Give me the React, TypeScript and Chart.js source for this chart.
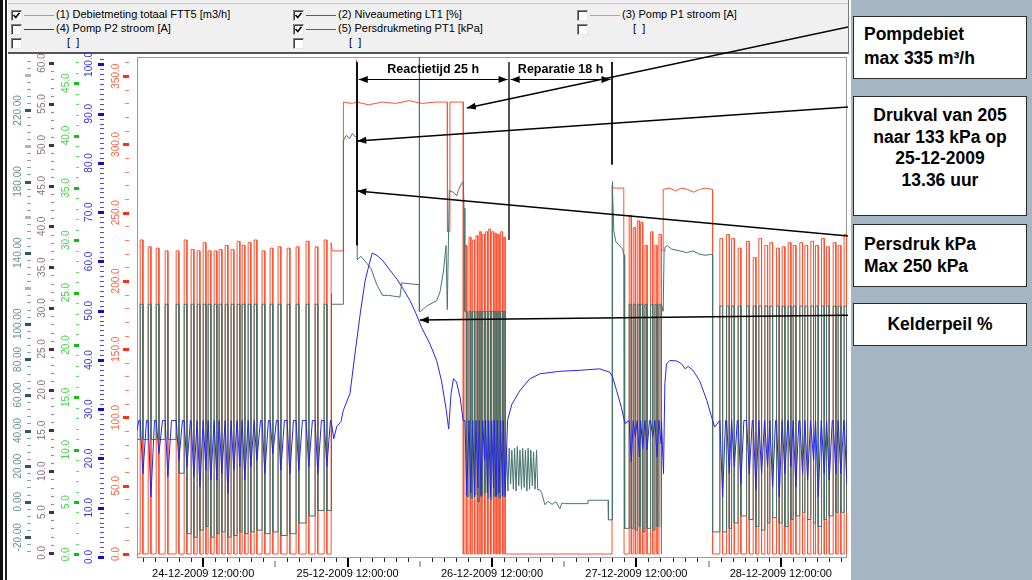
import React, { useEffect, useRef } from 'react';
import { Chart, registerables } from 'chart.js';

Chart.register(...registerables);

type Pt = { x: number; y: number };
const FONT = "'Liberation Sans', Arial, Helvetica, sans-serif";

// ---------- time axis: hours after 24-12-2009 00:00 ----------
const hourMin = 1.0;
const hourMax = 119.0;
const dateTickHours = [12, 36, 60, 84, 108];
const dateTickLabels = [
  '24-12-2009 12:00:00',
  '25-12-2009 12:00:00',
  '26-12-2009 12:00:00',
  '27-12-2009 12:00:00',
  '28-12-2009 12:00:00',
];

// ---------- axis tick labels ----------
const flowTicks = [0, 50, 100, 150, 200, 250, 300, 350];
const levelTicks = [0, 10, 20, 30, 40, 50, 60, 70, 80, 90, 100];
const p1Ticks = [0, 5, 10, 15, 20, 25, 30, 35, 40, 45];
const p2Ticks = [0, 5, 10, 15, 20, 25, 30, 35, 40, 45, 50, 55, 60];
const pressTicks = [-20, 0, 20, 40, 60, 80, 100, 140, 180, 220];
const pressGrayTicks = [120, 160, 200, 240];

// ---------- period 1: pump cycles 24-12 ----------
const cycleStarts1 = [1.53, 2.86, 4.19, 5.68, 7.51, 8.84, 10.0, 11.0, 12.0, 12.82, 13.82, 14.65, 15.65, 16.64, 17.64, 18.47, 19.47, 20.47, 21.79, 23.12, 24.45, 25.95, 27.44, 29.1, 30.6, 32.1];
const onHours1 = 0.45;
const flowPeaks1 = [230, 225, 224, 222, 222, 230, 223, 222, 228, 222, 222, 223, 226, 223, 229, 226, 228, 230, 222, 224, 225, 224, 225, 229, 225, 230];
const levelLows1 = [16.9, 12.2, 21.0, 16.3, 19.6, 18.3, 16.3, 14.2, 17.6, 15.6, 15.6, 16.9, 12.9, 17.6, 18.3, 15.6, 18.3, 19.6, 16.9, 21.0, 17.6, 16.9, 17.6, 18.3, 16.9, 18.3];
const pressureOff1 = [35, 35, 35, 35, 16, -18, -20, -16, -14, -20, -18, -17, -20, -19, -17, -18, -17, -16, -18, -17, -19, -18, -12, -8, -5, -5];
const pressureStart = 35;
const levelStartHours = [1.0, 1.3];
const levelStartValues = [25.7, 27.7];

// ---------- period 2: continuous pumping (pump fault) ----------
const runFlowHours2 = [33.26, 33.26, 33.45, 35.3, 35.3, 36.8, 37.45, 37.45, 37.5, 39.5, 41.8, 44.0, 46.2, 48.4, 50.6, 52.55, 52.6, 52.95, 53.0, 55.23, 55.23];
const runFlowValues2 = [0, 228, 222, 222, 331, 330, 331, 362, 331, 329, 331, 330, 332, 330, 331, 331, 236, 236, 331, 331, 0];
const runPressHours2 = [33.26, 33.26, 33.4, 35.3, 35.3, 35.8, 36.3, 36.8, 37.3, 37.55, 37.6, 38.2, 39.2, 39.9, 40.85, 41.8, 42.8, 44.7, 45.0, 47.76, 47.9, 47.92, 47.95, 48.16, 49.15, 50.81, 51.36, 51.91, 52.36, 52.57, 52.9, 53.52, 54.14, 54.4, 54.97, 55.23, 55.35, 55.45];
const runPressValues2 = [-5, 117, 111, 111, 203, 206, 204, 207, 205, 205, 136, 138, 134, 131, 122, 116, 116, 115, 123, 122, 122, 251, 107, 107, 110, 113, 118, 129, 144, 108, 175, 174, 172, 175, 179, 180, 165, 107];
const runLevelHours2 = [33.26, 33.7, 34.2, 34.9, 35.3, 36.4, 37.2, 38.1, 38.9, 39.6, 40.1, 40.9, 41.9, 43.0, 44.2, 45.3, 46.4, 47.3, 48.3, 49.7, 50.8, 51.6, 52.4, 52.8, 53.2, 53.6, 54.1, 54.7, 55.2];
const runLevelValues2 = [27.7, 24.0, 26.5, 27.5, 29.8, 33.2, 41.0, 49.4, 56.0, 59.5, 61.7, 61.2, 60.1, 58.3, 56.4, 54.3, 52.0, 49.6, 46.6, 43.2, 39.9, 35.8, 29.8, 26.0, 33.2, 36.2, 35.5, 32.4, 27.7];

// ---------- period 2b: short cycles 26-12 ----------
const cycleStarts2 = [55.51, 56.18, 56.79, 57.34, 57.89, 58.46, 58.95, 59.45, 59.95, 60.38, 60.88, 61.44, 61.88];
const onHours2 = 0.3;
const flowPeaks2 = [226, 232, 230, 233, 236, 234, 236, 238, 236, 235, 234, 236, 232];
const levelLows2 = [12.5, 13.0, 12.2, 14.0, 12.5, 19.6, 13.0, 12.2, 14.0, 12.2, 13.0, 12.5, 12.2];
const pressureOff2 = [3, 2, 4, 0, 3, 5, 2, 1, 3, 4, 2, 3, 6];

// ---------- repair period (pumps stopped) ----------
const oscPressHours = [62.2, 62.4, 62.65, 62.85, 63.1, 63.3, 63.55, 63.75, 64.0, 64.2, 64.45, 64.65, 64.9, 65.1, 65.35, 65.55, 65.8, 66.0, 66.25, 66.45, 66.7, 66.9, 67.15, 67.4];
const oscPressValues = [8, 30, 6, 30, 10, 29, 7, 30, 6, 31, 9, 29, 7, 30, 8, 29, 6, 30, 7, 29, 9, 28, 7, 29];
const quietPressHours = [67.6, 67.9, 68.25, 68.8, 69.3, 70.0, 70.6, 71.3, 71.6, 72.1, 75.8, 75.95, 79.3, 79.35, 79.95];
const quietPressValues = [6.8, 6.8, 5.0, -1.7, 0.2, -1.5, 0.0, -4.0, -0.8, -1.1, -1.1, 0.8, 0.8, -10.2, -10.2];
const recoverLevelHours = [63.3, 64.65, 66.3, 68.0, 71.3, 74.6, 77.9, 79.6, 80.05, 80.7, 81.5, 82.1];
const recoverLevelValues = [31.0, 33.8, 36.2, 37.2, 37.7, 37.9, 38.2, 37.5, 36.5, 33.8, 30.4, 27.1];

// ---------- period 3: restart 27-12 ----------
const runFlowHours3 = [79.95, 79.95, 80.2, 81.9, 81.95];
const runFlowValues3 = [0, 270, 268, 268, 0];
const runPressHours3 = [80.0, 80.0, 80.1, 80.25, 80.6, 81.2, 81.7, 81.95, 82.05];
const runPressValues3 = [-10.2, 180, 174, 152, 146, 144, 142, 138.6, -15];
const cycleStarts3 = [82.8, 83.47, 84.14, 84.7, 85.42, 86.36, 87.08, 87.74];
const onHours3 = 0.35;
const flowPeaks3 = [248, 239, 244, 243, 226, 236, 226, 234];
const levelLows3 = [19.3, 24.4, 20.3, 22.0, 21.7, 24.4, 20.3, 23.0];
const pressureOff3 = [-15, -16, -14, -17, -15, -16, -14, -15];

// ---------- period 3b: continuous run 27/28-12 ----------
const runFlowHours4 = [88.19, 88.19, 88.45, 88.45, 89.5, 90.5, 91.5, 92.5, 93.5, 94.5, 95.5, 96.66, 96.66];
const runFlowValues4 = [0, 222, 222, 267, 268, 266, 268, 267, 265, 267, 268, 267, 0];
const runPressHours4 = [88.19, 88.19, 88.45, 88.6, 88.73, 89.1, 89.85, 91.23, 92.34, 93.44, 94.55, 95.66, 96.21, 96.66, 96.66];
const runPressValues4 = [-15, 111, 107, 141, 143, 144, 142, 141, 140, 141, 139, 138.5, 139, 139, -17];
const runLevelHours4 = [88.19, 88.5, 88.73, 89.0, 89.55, 90.7, 91.5, 92.1, 92.6, 93.4, 94.5, 95.7, 96.5, 97.0];
const runLevelValues4 = [27.7, 16.9, 35.2, 39.2, 39.9, 39.8, 39.2, 38.2, 38.7, 37.9, 35.8, 31.8, 28.4, 26.4];

// ---------- period 4: normal cycles 28-12 ----------
const cycleStarts4 = [97.87, 98.99, 99.82, 100.91, 102.31, 103.41, 104.35, 105.35, 106.18, 107.29, 108.22, 109.22, 110.05, 111.16, 112.0, 112.99, 113.77, 114.77, 115.6, 116.7, 117.53, 118.52];
const onHours4 = 0.45;
const flowPeaks4 = [231, 234, 231, 224, 229, 217, 231, 226, 228, 224, 225, 228, 226, 228, 226, 229, 226, 231, 225, 228, 226, 234];
const levelLows4 = [12.2, 16.9, 18.3, 14.9, 16.9, 13.6, 16.9, 18.3, 14.2, 12.2, 16.9, 18.3, 14.2, 16.9, 15.6, 19.6, 12.2, 16.9, 15.6, 16.9, 16.9, 14.9];
const pressureOff4 = [-17, -15, -12, -8, -10, -14, -16, -12, -9, -12, -14, -10, -8, -6, -10, -12, -14, -10, -8, -6, -6, -6];

const levelHigh = 27.7;
const pressureOn = [111, 107, 111, 110];

// ---------- annotations (data coordinates) ----------
const pointerFrom = [[119.2, 386], [119.2, 221.9], [119.2, 149.4], [119.2, 49.1]];
const pointerTo = [[55.8, 326.6], [37.6, 202.8], [37.6, 174.7], [48.0, 48.1]];
const pointerAxis = ['yFlow', 'yPress', 'yPress', 'yLevel'];
const markerHours = [37.6, 62.85, 79.95];
const markerTop = [360.3, 360.3, 360.3];
const markerBottom = [226, 230, 285];
const markerColors = ['#111111', '#555555', '#222222'];
const spanFrom = [37.6, 62.85];
const spanTo = [62.85, 79.95];
const spanLabels = ['Reactietijd 25 h', 'Reparatie 18 h'];
const spanLineValue = 347.9;
const spanTextValue = 355;

// ---------- builders ----------
const zip = (hs: number[], vs: number[]): Pt[] => hs.map((h, i) => ({ x: h, y: vs[i] }));

function flowPulses(starts: number[], on: number, peaks: number[]): Pt[] {
  const pts: Pt[] = [];
  starts.forEach((t, i) => {
    pts.push({ x: t, y: 0 }, { x: t, y: peaks[i] }, { x: t + on, y: peaks[i] }, { x: t + on, y: 0 });
  });
  return pts;
}
function pressurePulses(starts: number[], on: number, onLevel: number, offs: number[], entry: number): Pt[] {
  const pts: Pt[] = [];
  let prev = entry;
  starts.forEach((t, i) => {
    pts.push({ x: t, y: prev }, { x: t, y: onLevel }, { x: t + on, y: onLevel }, { x: t + on, y: offs[i] });
    prev = offs[i];
  });
  return pts;
}
function levelPulses(starts: number[], on: number, lows: number[], high: number, rise: number, until: number): Pt[] {
  const pts: Pt[] = [];
  starts.forEach((t, i) => {
    const next = i + 1 < starts.length ? starts[i + 1] : until;
    const back = Math.min(t + on + rise, next);
    pts.push({ x: t, y: high }, { x: t + on, y: lows[i] }, { x: back, y: high });
  });
  return pts;
}

const flowData: Pt[] = [
  { x: hourMin, y: 0 },
  ...flowPulses(cycleStarts1, onHours1, flowPeaks1),
  ...zip(runFlowHours2, runFlowValues2),
  ...flowPulses(cycleStarts2, onHours2, flowPeaks2),
  ...zip(runFlowHours3, runFlowValues3),
  ...flowPulses(cycleStarts3, onHours3, flowPeaks3),
  ...zip(runFlowHours4, runFlowValues4),
  ...flowPulses(cycleStarts4, onHours4, flowPeaks4),
  { x: hourMax, y: 0 },
];

const pressureData: Pt[] = [
  { x: hourMin, y: pressureStart },
  ...pressurePulses(cycleStarts1, onHours1, pressureOn[0], pressureOff1, pressureStart),
  ...zip(runPressHours2, runPressValues2),
  ...pressurePulses(cycleStarts2, onHours2, pressureOn[1], pressureOff2, 107),
  ...zip(oscPressHours, oscPressValues),
  ...zip(quietPressHours, quietPressValues),
  ...zip(runPressHours3, runPressValues3),
  ...pressurePulses(cycleStarts3, onHours3, pressureOn[2], pressureOff3, -15),
  ...zip(runPressHours4, runPressValues4),
  ...pressurePulses(cycleStarts4, onHours4, pressureOn[3], pressureOff4, -17),
  { x: hourMax, y: -6 },
];

const levelData: Pt[] = [
  ...zip(levelStartHours, levelStartValues),
  ...levelPulses(cycleStarts1, onHours1, levelLows1, levelHigh, 0.6, 33.2),
  ...zip(runLevelHours2, runLevelValues2),
  ...levelPulses(cycleStarts2, onHours2, levelLows2, levelHigh, 0.4, 62.6),
  ...zip(recoverLevelHours, recoverLevelValues),
  ...levelPulses(cycleStarts3, onHours3, levelLows3, levelHigh, 0.4, 88.15),
  ...zip(runLevelHours4, runLevelValues4),
  ...levelPulses(cycleStarts4, onHours4, levelLows4, levelHigh, 0.5, hourMax),
];

// ---------- axis decoration styles ----------
const axisDecor = [
  { id: 'yPress', ticks: pressTicks, gray: pressGrayTicks, minorStep: 4, digits: 2, size: 10, text: '#63908a', major: '#2f5a55', minor: '#8aa8a4', label: 17, t0: 10, t1: 4 },
  { id: 'yP2', ticks: p2Ticks, gray: [] as number[], minorStep: 1, digits: 1, size: 10, text: '#8c6e84', major: '#4e2a48', minor: '#9a8094', label: 15, t0: 8, t1: 3 },
  { id: 'yP1', ticks: p1Ticks, gray: [] as number[], minorStep: 1, digits: 1, size: 10, text: '#44d444', major: '#10c010', minor: '#60d860', label: 16, t0: 8, t1: 3 },
  { id: 'yLevel', ticks: levelTicks, gray: [] as number[], minorStep: 1, digits: 1, size: 10, text: '#3030e6', major: '#1010d0', minor: '#4a4ae0', label: 18, t0: 9, t1: 3 },
  { id: 'yFlow', ticks: flowTicks, gray: [] as number[], minorStep: 10, digits: 1, size: 10, text: '#ff6040', major: '#ff3010', minor: '#ff7a60', label: 21, t0: 14, t1: 8 },
];

function arrowHead(ctx: CanvasRenderingContext2D, x0: number, y0: number, x1: number, y1: number) {
  const len = 9, half = 3.5;
  const a = Math.atan2(y1 - y0, x1 - x0);
  const c = Math.cos(a), s = Math.sin(a);
  ctx.beginPath();
  ctx.moveTo(x1, y1);
  ctx.lineTo(x1 - len * c + half * s, y1 - len * s - half * c);
  ctx.lineTo(x1 - len * c - half * s, y1 - len * s + half * c);
  ctx.closePath();
  ctx.fill();
}

const decorPlugin = {
  id: 'scadaDecor',
  beforeDatasetsDraw(chart: any) {
    const { ctx, chartArea: a, scales } = chart;
    ctx.save();
    ctx.strokeStyle = '#9c9c9c';
    ctx.lineWidth = 1;
    ctx.strokeRect(a.left + 0.5, a.top + 0.5, a.right - a.left - 1, a.bottom - a.top);
    axisDecor.forEach((d) => {
      const s = scales[d.id];
      const r = s.right;
      ctx.fillStyle = d.minor;
      const n0 = Math.ceil(s.min / d.minorStep);
      const n1 = Math.floor(s.max / d.minorStep);
      for (let n = n0; n <= n1; n++) {
        const y = Math.round(s.getPixelForValue(n * d.minorStep));
        ctx.fillRect(r - d.t0 + 2, y, d.t0 - d.t1 - 2, 1);
      }
      ctx.fillStyle = '#b4b4b4';
      d.gray.forEach((v) => {
        const y = Math.round(s.getPixelForValue(v));
        ctx.fillRect(r - d.t0, y - 1, d.t0 - d.t1, 3);
      });
      ctx.fillStyle = d.major;
      d.ticks.forEach((v) => {
        const y = Math.round(s.getPixelForValue(v));
        ctx.fillRect(r - d.t0, y - 1, d.t0 - d.t1, 3);
      });
      ctx.fillStyle = d.text;
      ctx.font = `${d.size}px ${FONT}`;
      ctx.textAlign = 'center';
      ctx.textBaseline = 'middle';
      d.ticks.forEach((v) => {
        const y = s.getPixelForValue(v);
        ctx.save();
        ctx.translate(r - d.label, y);
        ctx.rotate(-Math.PI / 2);
        ctx.fillText(v.toFixed(d.digits), 0, 0);
        ctx.restore();
      });
    });
    const xs = scales.x;
    for (let h = 2; h <= 118; h += 2) {
      const x = Math.round(xs.getPixelForValue(h));
      if (h % 24 === 12) {
        ctx.fillStyle = '#000';
        ctx.fillRect(x - 1, a.bottom + 1, 2, 9);
      } else if (h % 24 === 0) {
        ctx.fillStyle = '#b0b0b0';
        ctx.fillRect(x - 1, a.bottom + 4, 2, 6);
      } else {
        ctx.fillStyle = '#222';
        ctx.fillRect(x, a.bottom + 1, 1, 4);
      }
    }
    ctx.restore();
  },
  afterDatasetsDraw(chart: any) {
    const { ctx, scales } = chart;
    const xs = scales.x;
    const fy = scales.yFlow;
    ctx.save();
    ctx.lineCap = 'butt';
    markerHours.forEach((h, i) => {
      const x = Math.round(xs.getPixelForValue(h));
      ctx.strokeStyle = markerColors[i];
      ctx.lineWidth = 2;
      ctx.beginPath();
      ctx.moveTo(x, fy.getPixelForValue(markerTop[i]));
      ctx.lineTo(x, fy.getPixelForValue(markerBottom[i]));
      ctx.stroke();
    });
    ctx.fillStyle = '#000';
    ctx.strokeStyle = '#000';
    ctx.lineWidth = 1;
    const ySpan = Math.round(fy.getPixelForValue(spanLineValue)) + 0.5;
    spanFrom.forEach((h0, i) => {
      const x0 = xs.getPixelForValue(h0) + 1.5;
      const x1 = xs.getPixelForValue(spanTo[i]) - 1.5;
      ctx.beginPath();
      ctx.moveTo(x0, ySpan);
      ctx.lineTo(x1, ySpan);
      ctx.stroke();
      arrowHead(ctx, x1, ySpan, x0, ySpan);
      arrowHead(ctx, x0, ySpan, x1, ySpan);
      ctx.font = `bold 12.5px ${FONT}`;
      ctx.textAlign = 'center';
      ctx.textBaseline = 'middle';
      ctx.fillText(spanLabels[i], (x0 + x1) / 2, fy.getPixelForValue(spanTextValue));
    });
    ctx.lineWidth = 1.5;
    pointerFrom.forEach((p, i) => {
      const sc = scales[pointerAxis[i]];
      const xa = xs.getPixelForValue(p[0]);
      const ya = sc.getPixelForValue(p[1]);
      const xb = xs.getPixelForValue(pointerTo[i][0]);
      const yb = sc.getPixelForValue(pointerTo[i][1]);
      ctx.beginPath();
      ctx.moveTo(xa, ya);
      ctx.lineTo(xb, yb);
      ctx.stroke();
      arrowHead(ctx, xa, ya, xb, yb);
    });
    ctx.restore();
  },
};

const yAxis = (min: number, max: number, weight: number, width: number) => ({
  type: 'linear',
  position: 'left',
  min,
  max,
  weight,
  grid: { display: false },
  border: { display: false },
  ticks: { display: false },
  afterFit: (s: any) => {
    s.width = width;
  },
});

const legendRows = [
  [
    { checked: true, color: '#ff7a62', text: '(1) Debietmeting totaal FTT5 [m3/h]' },
    { checked: true, color: '#4a4af4', text: '(2) Niveaumeting LT1 [%]' },
    { checked: false, color: '#55dd55', text: '(3) Pomp P1 stroom [A]' },
  ],
  [
    { checked: false, color: '#5a2a5a', text: '(4) Pomp P2 stroom [A]' },
    { checked: true, color: '#3f6f66', text: '(5) Persdrukmeting PT1 [kPa]' },
    { checked: false, color: '', text: '[  ]' },
  ],
  [
    { checked: false, color: '', text: '[  ]' },
    { checked: false, color: '', text: '[  ]' },
  ],
];
const legendColX = [11, 293, 577];
const legendRowY = [15, 29, 43];

function CheckBox({ checked }: { checked: boolean }) {
  return (
    <div
      style={{
        position: 'absolute',
        left: 0,
        top: -5,
        width: 11,
        height: 11,
        boxSizing: 'border-box',
        background: '#fff',
        borderStyle: 'solid',
        borderWidth: 1,
        borderColor: '#808080 #e8e8e8 #e8e8e8 #808080',
        boxShadow: 'inset 1px 1px 0 #404040',
      }}
    >
      {checked && (
        <svg width="9" height="9" style={{ position: 'absolute', left: 0, top: 0 }}>
          <polyline points="1.5,4 3.8,6.5 7.5,1.8" fill="none" stroke="#000" strokeWidth="1.6" />
        </svg>
      )}
    </div>
  );
}

const boxBase: React.CSSProperties = {
  position: 'absolute',
  left: 853,
  width: 174,
  background: '#fff',
  border: '1.5px solid #2a2a2a',
  boxSizing: 'border-box',
  fontFamily: FONT,
  fontWeight: 'bold',
  fontSize: 17.5,
  color: '#000',
};

export default function App() {
  const ref = useRef<HTMLCanvasElement>(null);
  useEffect(() => {
    const chart = new Chart(ref.current as HTMLCanvasElement, {
      type: 'line',
      data: {
        datasets: [
          { label: '(2) Niveaumeting LT1 [%]', data: levelData, yAxisID: 'yLevel', borderColor: '#2626e4', borderWidth: 1, pointRadius: 0, tension: 0, fill: false },
          { label: '(5) Persdrukmeting PT1 [kPa]', data: pressureData, yAxisID: 'yPress', borderColor: '#46746d', borderWidth: 1, pointRadius: 0, tension: 0, fill: false },
          { label: '(1) Debietmeting totaal FTT5 [m3/h]', data: flowData, yAxisID: 'yFlow', borderColor: '#ff5030', borderWidth: 1, pointRadius: 0, tension: 0, fill: false },
        ],
      } as any,
      options: {
        animation: false,
        responsive: false,
        devicePixelRatio: 1,
        events: [],
        layout: { padding: { top: 57, right: 1, left: 0, bottom: 0 } },
        plugins: { legend: { display: false }, tooltip: { enabled: false } },
        scales: {
          x: {
            type: 'linear',
            min: hourMin,
            max: hourMax,
            grid: { display: false, drawTicks: false },
            border: { display: false },
            afterBuildTicks: (s: any) => {
              s.ticks = dateTickHours.map((v) => ({ value: v }));
            },
            afterFit: (s: any) => {
              s.height = 23;
            },
            ticks: {
              autoSkip: false,
              maxRotation: 0,
              minRotation: 0,
              padding: 10,
              color: '#000',
              font: { size: 11, family: FONT },
              callback: (v: any) => {
                const i = dateTickHours.indexOf(Number(v));
                return i >= 0 ? dateTickLabels[i] : '';
              },
            },
          },
          yFlow: yAxis(-2.2, 364, 0, 30),
          yLevel: yAxis(0, 101.5, 1, 25),
          yP1: yAxis(-0.25, 47.5, 2, 25),
          yP2: yAxis(-0.5, 60.75, 3, 22),
          yPress: yAxis(-31.1, 250, 4, 27),
        } as any,
      },
      plugins: [decorPlugin],
    });
    return () => chart.destroy();
  }, []);

  return (
    <div style={{ position: 'fixed', left: 0, top: 0, width: 1032, height: 580, background: '#fff', overflow: 'hidden', fontFamily: FONT }}>
      <div style={{ position: 'absolute', left: 0, top: 0, width: 3, height: 580, background: '#111' }} />
      <div style={{ position: 'absolute', left: 5, top: 0, width: 2, height: 580, background: '#222' }} />
      <div style={{ position: 'absolute', left: 8, top: 0, width: 841, height: 54, background: '#f0f0f0', borderBottom: '2px solid #555', borderRight: '1px solid #777', boxSizing: 'border-box' }}>
        <div style={{ position: 'absolute', left: 0, top: 3, width: 840, height: 1, background: '#c8c8c8' }} />
      </div>
      {legendRows.map((row, ri) =>
        row.map((e, ci) => {
          const left = legendColX[ci];
          const top = legendRowY[ri];
          return (
            <div key={`${ri}-${ci}`} style={{ position: 'absolute', left, top, width: 280, height: 1 }}>
              <CheckBox checked={e.checked} />
              {e.color && <div style={{ position: 'absolute', left: 13, top: 0, width: 30, height: 1, background: e.color }} />}
              <div
                style={{
                  position: 'absolute',
                  left: e.color ? 45 : 56,
                  top: -7,
                  fontSize: 11,
                  lineHeight: '13px',
                  whiteSpace: 'pre',
                  color: '#000',
                }}
              >
                {e.text}
              </div>
            </div>
          );
        })
      )}
      <canvas ref={ref} width={840} height={580} style={{ position: 'absolute', left: 8, top: 0, width: 840, height: 580 }} />
      <div style={{ position: 'absolute', left: 851, top: 0, width: 181, height: 580, background: '#a6b5c4' }} />
      <div style={{ ...boxBase, top: 16, height: 63, padding: '5px 0 0 10px', lineHeight: '24px' }}>
        <div>Pompdebiet</div>
        <div>max 335 m³/h</div>
      </div>
      <div style={{ ...boxBase, top: 96, height: 120, padding: '8px 0 0 0', lineHeight: '21.7px', textAlign: 'center' }}>
        <div>Drukval van 205</div>
        <div>naar 133 kPa op</div>
        <div>25-12-2009</div>
        <div>13.36 uur</div>
      </div>
      <div style={{ ...boxBase, top: 224, height: 63, padding: '8px 0 0 10px', lineHeight: '22px' }}>
        <div>Persdruk kPa</div>
        <div>Max 250 kPa</div>
      </div>
      <div style={{ ...boxBase, top: 303, height: 43, padding: '9px 0 0 0', lineHeight: '22px', textAlign: 'center' }}>
        <div>Kelderpeil %</div>
      </div>
    </div>
  );
}
